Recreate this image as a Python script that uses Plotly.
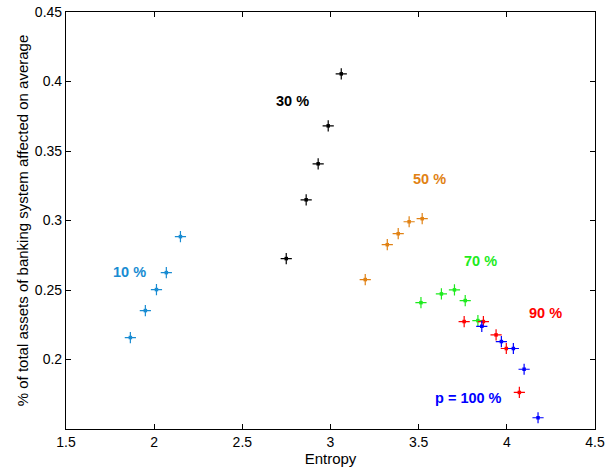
import plotly.graph_objects as go

# Entropy vs. share of banking-system assets affected, one series per p
series_names = ["10 %", "30 %", "50 %", "70 %", "90 %", "p = 100 %"]
series_colors = ["rgb(25,140,210)", "rgb(0,0,0)", "rgb(225,130,20)",
                 "rgb(30,235,30)", "rgb(255,0,0)", "rgb(0,0,255)"]

entropy_10 = [1.865, 1.950, 2.013, 2.069, 2.149]
affected_10 = [0.2158, 0.2352, 0.2503, 0.2625, 0.2884]

entropy_30 = [2.749, 2.862, 2.930, 2.987, 3.061]
affected_30 = [0.2726, 0.3149, 0.3408, 0.3681, 0.4055]

entropy_50 = [3.197, 3.322, 3.384, 3.446, 3.520]
affected_50 = [0.2575, 0.2826, 0.2905, 0.2991, 0.3013]

entropy_70 = [3.513, 3.629, 3.703, 3.764, 3.836]
affected_70 = [0.2409, 0.2472, 0.2501, 0.2424, 0.2280]

entropy_90 = [3.758, 3.867, 3.939, 3.997, 4.071]
affected_90 = [0.2273, 0.2273, 0.2177, 0.2079, 0.1763]

entropy_100 = [3.858, 3.969, 4.037, 4.098, 4.177]
affected_100 = [0.2239, 0.2129, 0.2079, 0.1930, 0.1581]

# Label anchor positions (data coordinates)
label_x = [1.860, 2.783, 3.559, 3.848, 4.222, 3.780]
label_y = [0.2632, 0.3860, 0.3300, 0.2710, 0.2338, 0.1720]

x_ticks = [1.5, 2, 2.5, 3, 3.5, 4, 4.5]
y_ticks = [0.2, 0.25, 0.3, 0.35, 0.4, 0.45]

xs = [entropy_10, entropy_30, entropy_50, entropy_70, entropy_90, entropy_100]
ys = [affected_10, affected_30, affected_50, affected_70, affected_90, affected_100]

FONT = "Liberation Sans, Arial"

fig = go.Figure()
for name, color, x, y in zip(series_names, series_colors, xs, ys):
    fig.add_trace(go.Scatter(
        x=x, y=y, mode="markers", name=name, showlegend=False,
        marker=dict(symbol="cross-thin-open", size=8, color=color,
                    line=dict(color=color, width=1.2)),
    ))
    fig.add_trace(go.Scatter(
        x=x, y=y, mode="markers", showlegend=False, hoverinfo="skip",
        marker=dict(symbol="square", size=3.5, color=color, line=dict(width=0)),
    ))

for name, color, lx, ly in zip(series_names, series_colors, label_x, label_y):
    fig.add_annotation(x=lx, y=ly, text="<b>" + name + "</b>", showarrow=False,
                       font=dict(family=FONT, size=14.5, color=color))

axis_common = dict(
    showline=True, linecolor="black", linewidth=1.2, mirror="ticks",
    ticks="inside", ticklen=5, tickcolor="black", tickwidth=1,
    showgrid=False, zeroline=False, automargin=False,
    tickfont=dict(family=FONT, size=14, color="black"),
)

fig.update_xaxes(range=[1.5, 4.5], tickvals=x_ticks,
                 ticktext=[f"{v:g}" for v in x_ticks],
                 title=dict(text="Entropy", standoff=2,
                            font=dict(family=FONT, size=15, color="black")),
                 **axis_common)
fig.update_yaxes(range=[0.15, 0.45], tickvals=y_ticks,
                 ticktext=[f"{v:g}" for v in y_ticks],
                 title=dict(text="% of total assets of banking system affected on average",
                            standoff=2,
                            font=dict(family=FONT, size=15, color="black")),
                 **axis_common)

fig.update_layout(
    width=608, height=476,
    margin=dict(l=66, r=13, t=12, b=47),
    paper_bgcolor="white", plot_bgcolor="white",
)

fig.write_html("out.html")
